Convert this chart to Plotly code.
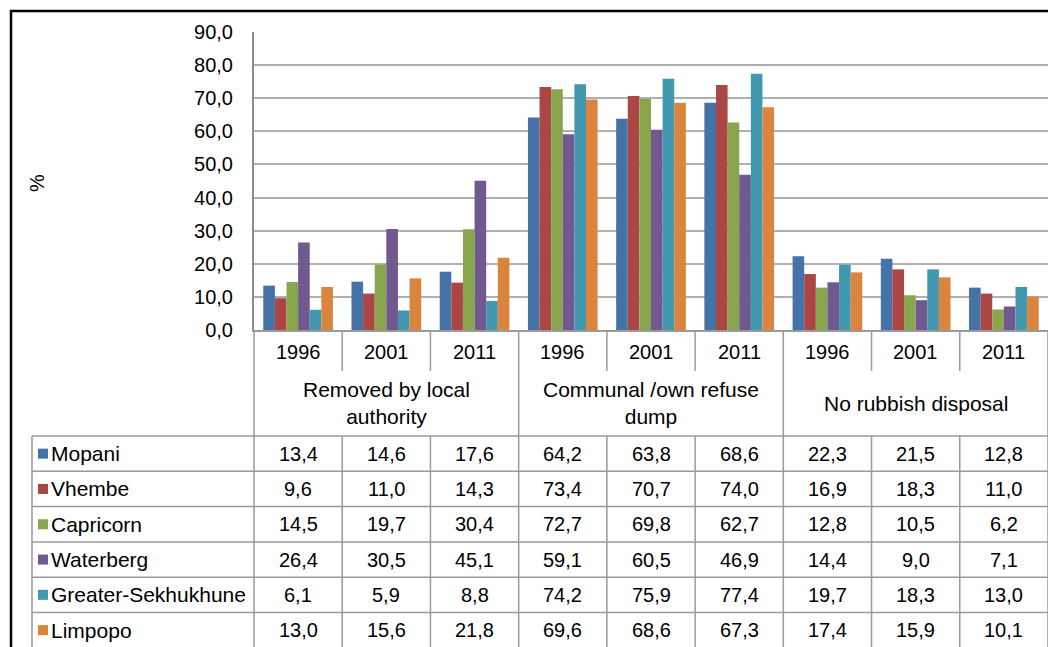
import plotly.graph_objects as go

# ---- data ----
categories = ["Removed by local<br>authority", "Communal /own refuse<br>dump", "No rubbish disposal"]
years = ["1996", "2001", "2011"]
series_names = ["Mopani", "Vhembe", "Capricorn", "Waterberg", "Greater-Sekhukhune", "Limpopo"]
mopani = [13.4, 14.6, 17.6, 64.2, 63.8, 68.6, 22.3, 21.5, 12.8]
vhembe = [9.6, 11.0, 14.3, 73.4, 70.7, 74.0, 16.9, 18.3, 11.0]
capricorn = [14.5, 19.7, 30.4, 72.7, 69.8, 62.7, 12.8, 10.5, 6.2]
waterberg = [26.4, 30.5, 45.1, 59.1, 60.5, 46.9, 14.4, 9.0, 7.1]
sekhukhune = [6.1, 5.9, 8.8, 74.2, 75.9, 77.4, 19.7, 18.3, 13.0]
limpopo = [13.0, 15.6, 21.8, 69.6, 68.6, 67.3, 17.4, 15.9, 10.1]
series_values = [mopani, vhembe, capricorn, waterberg, sekhukhune, limpopo]
colors = ["#4572A7", "#AA4643", "#89A54E", "#71588F", "#4198AF", "#DB843D"]

# ---- geometry (pixels) ----
W, H = 1048, 647
L, R, T, B = 254, 0, 32, 317
plot_w = W - L - R
plot_h = H - T - B
plot_bottom = T + plot_h

def px2x(px):
    return (px - L) / plot_w

def py2y(py):
    return (plot_bottom - py) / plot_h

n_groups = len(categories) * len(years)
x_idx = list(range(n_groups))
FONT = "Liberation Sans, Arial, sans-serif"
FS = 20      # numbers
FT = 21      # words
grid_col = "#B0B0B0"
line_col = "#9A9A9A"

fig = go.Figure()
for name, vals, col in zip(series_names, series_values, colors):
    fig.add_trace(go.Bar(x=x_idx, y=vals, name=name, marker=dict(color=col, line=dict(width=0))))

shapes = []
annotations = []

shapes.append(dict(type="rect", xref="paper", yref="paper",
                   x0=px2x(11), x1=px2x(1070), y0=py2y(700), y1=py2y(11),
                   line=dict(color="black", width=2.5), fillcolor="rgba(0,0,0,0)"))

year_bottom = 371
header_bottom = 436
row_h = 35.3
table_bottom = 700
legend_left = 32

def gx(i):
    return i / n_groups

for i in range(n_groups + 1):
    if i % len(years) == 0:
        shapes.append(dict(type="line", xref="paper", yref="paper", x0=gx(i), x1=gx(i),
                           y0=py2y(plot_bottom), y1=py2y(table_bottom), line=dict(color=line_col, width=1.5)))
    else:
        shapes.append(dict(type="line", xref="paper", yref="paper", x0=gx(i), x1=gx(i),
                           y0=py2y(plot_bottom), y1=py2y(year_bottom), line=dict(color=line_col, width=1.5)))
        shapes.append(dict(type="line", xref="paper", yref="paper", x0=gx(i), x1=gx(i),
                           y0=py2y(header_bottom), y1=py2y(table_bottom), line=dict(color=line_col, width=1.5)))
shapes.append(dict(type="line", xref="paper", yref="paper", x0=px2x(legend_left), x1=px2x(legend_left),
                   y0=py2y(header_bottom), y1=py2y(table_bottom), line=dict(color=line_col, width=1.5)))
for r in range(len(series_names) + 1):
    yy = header_bottom + r * row_h
    shapes.append(dict(type="line", xref="paper", yref="paper", x0=px2x(legend_left), x1=px2x(1070),
                       y0=py2y(yy), y1=py2y(yy), line=dict(color=line_col, width=1.5)))

for i in range(n_groups):
    annotations.append(dict(x=i, xref="x", xanchor="center", y=py2y(352), yref="paper", yanchor="middle",
                            text=years[i % len(years)], showarrow=False,
                            font=dict(size=FS, color="black", family=FONT)))
for c, cat in enumerate(categories):
    annotations.append(dict(x=c * len(years) + 1, xref="x", xanchor="center", y=py2y(403), yref="paper",
                            yanchor="middle", text=cat, showarrow=False,
                            font=dict(size=FT, color="black", family=FONT)))
for r, (name, vals, col) in enumerate(zip(series_names, series_values, colors)):
    cy = header_bottom + (r + 0.5) * row_h
    shapes.append(dict(type="rect", xref="paper", yref="paper", x0=px2x(38), x1=px2x(48),
                       y0=py2y(cy + 5), y1=py2y(cy - 5), line=dict(width=0), fillcolor=col))
    annotations.append(dict(x=px2x(49), xref="paper", xanchor="left", y=py2y(cy), yref="paper",
                            yanchor="middle", text=name, showarrow=False,
                            font=dict(size=FT, color="black", family=FONT)))
    for i, v in enumerate(vals):
        annotations.append(dict(x=i, xref="x", xanchor="center", y=py2y(cy), yref="paper", yanchor="middle",
                                text=f"{v:.1f}".replace(".", ","), showarrow=False,
                                font=dict(size=FS, color="black", family=FONT)))

annotations.append(dict(x=px2x(37), xref="paper", xanchor="center", y=py2y(183), yref="paper",
                        yanchor="middle", text="%", textangle=-90, showarrow=False,
                        font=dict(size=FS, color="black", family=FONT)))

fig.update_layout(
    width=W, height=H, autosize=False,
    margin=dict(l=L, r=R, t=T, b=B, pad=0),
    paper_bgcolor="white", plot_bgcolor="white",
    barmode="group", bargap=0.21, bargroupgap=0,
    showlegend=False,
    separators=",.",
    font=dict(family=FONT, size=FS, color="black"),
    shapes=shapes, annotations=annotations,
    xaxis=dict(range=[-0.5, n_groups - 0.5], showticklabels=False, showgrid=False, zeroline=False,
               showline=True, linecolor=line_col, linewidth=2, ticks=""),
    yaxis=dict(range=[0, 90], dtick=10, tickformat=".1f", showgrid=True, gridcolor=grid_col, gridwidth=2,
               zeroline=False, showline=True, linecolor="#8C8C8C", linewidth=2, ticks="",
               ticklabelstandoff=15, tickfont=dict(size=FS, color="black", family=FONT)),
)

fig.write_html("out.html", config={"displayModeBar": False},
               post_script="document.body.style.margin='0';document.body.style.overflow='hidden';")
